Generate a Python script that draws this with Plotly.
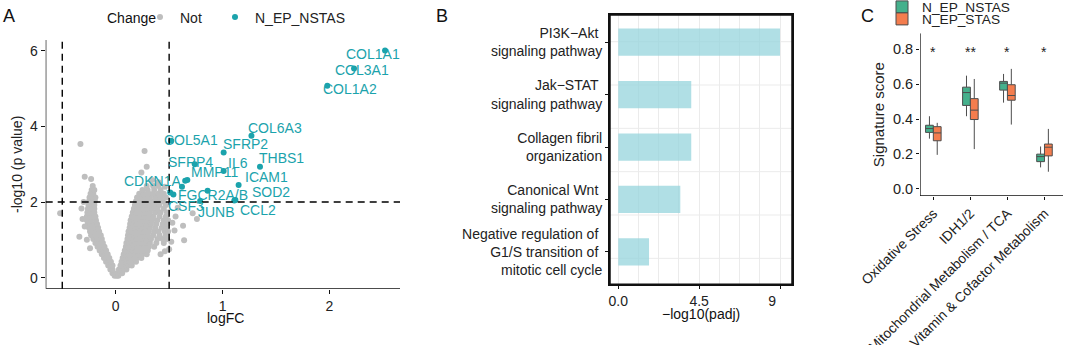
import plotly.graph_objects as go

# ---------------- Panel A : volcano ----------------
# non-significant genes ("Not")
not_x = [
    -0.01, -0.03, -0.015, -0.05, -0.03, -0.07, -0.05, -0.03, -0.09, -0.065, -0.045,
    -0.11, -0.085, -0.06, -0.13, -0.10, -0.075, -0.15, -0.12, -0.09, -0.17, -0.14, -0.105,
    -0.19, -0.155, -0.12, -0.21, -0.17, -0.13, -0.23, -0.185, -0.14, -0.24, -0.20, -0.155,
    -0.25, -0.21, -0.165, -0.26, -0.22, -0.175, -0.27, -0.23, -0.185, -0.27, -0.235, -0.19,
    -0.265, -0.235, -0.20, -0.26, -0.23, -0.20, -0.255, -0.225, -0.20, -0.25, -0.22, -0.195,
    -0.245, -0.215, -0.19, -0.235, -0.21, -0.225, -0.20, -0.215,
    -0.33, -0.29, -0.23, -0.52, -0.34, -0.32, -0.29, -0.31, -0.27, -0.30, -0.24,
    0.01, 0.025, 0.02, 0.04, 0.06, 0.03, 0.05, 0.08, 0.10,
    0.045, 0.07, 0.095, 0.12, 0.15, 0.055, 0.08, 0.105, 0.13, 0.16, 0.19,
    0.065, 0.09, 0.115, 0.14, 0.17, 0.20, 0.24, 0.075, 0.10, 0.125, 0.15, 0.18, 0.21, 0.25, 0.29,
    0.085, 0.11, 0.135, 0.16, 0.19, 0.22, 0.26, 0.30, 0.095, 0.12, 0.145, 0.17, 0.20, 0.23, 0.27, 0.31, 0.36,
    0.10, 0.125, 0.15, 0.18, 0.21, 0.24, 0.28, 0.32, 0.38, 0.45,
    0.11, 0.135, 0.16, 0.19, 0.22, 0.25, 0.29, 0.33, 0.39, 0.44, 0.48,
    0.115, 0.14, 0.17, 0.20, 0.23, 0.26, 0.30, 0.35, 0.41, 0.47,
    0.12, 0.15, 0.18, 0.21, 0.24, 0.27, 0.31, 0.36, 0.40, 0.46, 0.49,
    0.13, 0.155, 0.185, 0.215, 0.245, 0.28, 0.32, 0.37, 0.43, 0.47,
    0.135, 0.16, 0.19, 0.22, 0.25, 0.29, 0.33, 0.38, 0.44, 0.48,
    0.14, 0.17, 0.20, 0.23, 0.26, 0.30, 0.34, 0.39, 0.45, 0.49,
    0.15, 0.18, 0.21, 0.24, 0.27, 0.31, 0.35, 0.41, 0.47,
    0.16, 0.19, 0.22, 0.25, 0.28, 0.32, 0.37, 0.42, 0.48,
    0.17, 0.20, 0.23, 0.26, 0.30, 0.34, 0.39, 0.45,
    0.18, 0.21, 0.24, 0.28, 0.32, 0.36, 0.41, 0.47,
    0.19, 0.22, 0.26, 0.30, 0.34, 0.39, 0.44,
    0.20, 0.24, 0.28, 0.32, 0.37, 0.42, 0.47,
    0.22, 0.26, 0.31, 0.35, 0.40, 0.45,
    0.25, 0.30, 0.36, 0.42, 0.29, 0.35, 0.40,
    0.27, 0.29, 0.24, 0.34, 0.40, 0.46, 0.63, 0.64, 0.76, 0.72, 0.56, 0.55, 0.52, 0.58,
    0.53, 0.50, 0.46, 0.42,
]
not_y = [
    0.05, 0.12, 0.12, 0.22, 0.22, 0.32, 0.32, 0.32, 0.42, 0.42, 0.42,
    0.52, 0.52, 0.52, 0.62, 0.62, 0.62, 0.72, 0.72, 0.72, 0.82, 0.82, 0.82,
    0.92, 0.92, 0.92, 1.02, 1.02, 1.02, 1.12, 1.12, 1.12, 1.22, 1.22, 1.22,
    1.32, 1.32, 1.32, 1.42, 1.42, 1.42, 1.52, 1.52, 1.52, 1.62, 1.62, 1.62,
    1.72, 1.72, 1.72, 1.82, 1.82, 1.82, 1.92, 1.92, 1.92, 2.02, 2.02, 2.02,
    2.12, 2.12, 2.12, 2.22, 2.22, 2.32, 2.32, 2.42,
    3.53, 2.67, 2.61, 1.70, 1.08, 1.83, 1.35, 1.55, 1.00, 2.00, 0.78,
    0.05, 0.05, 0.12, 0.12, 0.12, 0.22, 0.22, 0.22, 0.22,
    0.32, 0.32, 0.32, 0.32, 0.32, 0.42, 0.42, 0.42, 0.42, 0.42, 0.42,
    0.52, 0.52, 0.52, 0.52, 0.52, 0.52, 0.52, 0.62, 0.62, 0.62, 0.62, 0.62, 0.62, 0.62, 0.62,
    0.72, 0.72, 0.72, 0.72, 0.72, 0.72, 0.72, 0.72, 0.82, 0.82, 0.82, 0.82, 0.82, 0.82, 0.82, 0.82, 0.82,
    0.92, 0.92, 0.92, 0.92, 0.92, 0.92, 0.92, 0.92, 0.92, 0.92,
    1.02, 1.02, 1.02, 1.02, 1.02, 1.02, 1.02, 1.02, 1.02, 1.02, 1.02,
    1.12, 1.12, 1.12, 1.12, 1.12, 1.12, 1.12, 1.12, 1.12, 1.12,
    1.22, 1.22, 1.22, 1.22, 1.22, 1.22, 1.22, 1.22, 1.22, 1.22, 1.22,
    1.32, 1.32, 1.32, 1.32, 1.32, 1.32, 1.32, 1.32, 1.32, 1.32,
    1.42, 1.42, 1.42, 1.42, 1.42, 1.42, 1.42, 1.42, 1.42, 1.42,
    1.52, 1.52, 1.52, 1.52, 1.52, 1.52, 1.52, 1.52, 1.52, 1.52,
    1.62, 1.62, 1.62, 1.62, 1.62, 1.62, 1.62, 1.62, 1.62,
    1.72, 1.72, 1.72, 1.72, 1.72, 1.72, 1.72, 1.72, 1.72,
    1.82, 1.82, 1.82, 1.82, 1.82, 1.82, 1.82, 1.82,
    1.92, 1.92, 1.92, 1.92, 1.92, 1.92, 1.92, 1.92,
    2.02, 2.02, 2.02, 2.02, 2.02, 2.02, 2.02,
    2.12, 2.12, 2.12, 2.12, 2.12, 2.12, 2.12,
    2.22, 2.22, 2.22, 2.22, 2.22, 2.22,
    2.32, 2.32, 2.32, 2.32, 2.42, 2.42, 2.42,
    3.35, 2.93, 2.78, 2.58, 2.52, 2.40, 1.37, 0.99, 1.55, 1.70, 1.62, 1.25, 0.95, 1.85,
    1.45, 0.75, 0.70, 0.62,
]

# significant genes (N_EP_NSTAS)
sig_genes = ["COL1A1", "COL3A1", "COL1A2", "COL6A3", "SFRP2", "COL5A1", "SFRP4", "THBS1",
             "IL6", "MMP11", "ICAM1", "CDKN1A", "SOD2", "FGCR2A/B", "CSF3", "JUNB", "CCL2", "", ""]
sig_x = [2.52, 2.23, 1.98, 1.27, 1.01, 0.52, 0.74, 1.35,
         1.01, 0.67, 1.15, 0.51, 1.12, 0.86, 0.54, 0.79, 1.11, 0.65, 0.62]
sig_y = [6.00, 5.53, 5.07, 3.75, 3.31, 3.62, 3.00, 2.93,
         2.82, 2.58, 2.45, 2.25, 2.05, 2.30, 2.20, 2.03, 2.04, 2.56, 2.40]
# label offsets (pixels, right / up) - repel-style placement
label_dx = [-12, 8, 23, 24, 22, 20, -4, 22, 14, 27, 28, -18, 36, 5, 13, 16, 24, 0, 0]
label_dy = [-3, -2, -3, 8, 8, 1, 2, 9, 8, 8, 8, 12, 8, -4, -12, -11, -9, 0, 0]
fc_cut = 0.5
p_cut = 2
a_xticks = [0, 1, 2]
a_yticks = [0, 2, 4, 6]
a_xrange = [-0.655, 2.66]
a_yrange = [-0.29, 6.28]

# ---------------- Panel B : enrichment ----------------
pathways = ["PI3K−Akt <br>signaling pathway",
            "Jak−STAT <br>signaling pathway",
            "Collagen fibril<br>organization",
            "Canonical Wnt <br>signaling pathway",
            "Negative regulation of <br>G1/S transition of <br>mitotic cell cycle"]
neg_log_padj = [9.0, 4.06, 4.06, 3.45, 1.71]
b_xticks = [0, 4.5, 9]
b_xticklabels = ["0.0", "4.5", "9\u00a0\u00a0\u00a0\u00a0"]

# ---------------- Panel C : signature scores ----------------
signatures = ["Oxidative Stress", "IDH1/2", "Mitochondrial Metabolism / TCA",
              "Vitamin & Cofactor Metabolism"]
nstas_low = [0.287, 0.416, 0.494, 0.122]
nstas_q1 = [0.323, 0.478, 0.566, 0.155]
nstas_med = [0.345, 0.552, 0.606, 0.184]
nstas_q3 = [0.364, 0.583, 0.616, 0.198]
nstas_high = [0.416, 0.649, 0.659, 0.242]
stas_low = [0.194, 0.227, 0.368, 0.097]
stas_q1 = [0.275, 0.397, 0.508, 0.188]
stas_med = [0.320, 0.451, 0.535, 0.238]
stas_q3 = [0.356, 0.517, 0.597, 0.256]
stas_high = [0.378, 0.630, 0.688, 0.343]
signif = ["*", "**", "*", "*"]
signif_y = 0.785
c_yticks = [0, 0.2, 0.4, 0.6, 0.8]
c_yrange = [-0.0425, 0.8925]
frame_span = [0, 1]

FONT = "Liberation Sans, Arial, Helvetica, sans-serif"
TEAL = "#1BA3AC"
GREY = "#BEBEBE"
GREEN = "#45B08C"
ORANGE = "#F47D4E"
GRID = "#EBEBEB"
AXC = "#111111"
W, H = 1065, 345


def fx(px):
    return px / W


def fy(py):
    return 1 - py / H


fig = go.Figure()

# ---- A traces
fig.add_trace(go.Scatter(x=not_x, y=not_y, mode="markers", name="Not",
                         marker=dict(color=GREY, size=6, line=dict(width=0)),
                         xaxis="x", yaxis="y", legend="legend"))
fig.add_trace(go.Scatter(x=sig_x, y=sig_y, mode="markers", name="N_EP_NSTAS",
                         marker=dict(color=TEAL, size=6, line=dict(width=0)),
                         xaxis="x", yaxis="y", legend="legend4"))
# panel A axis frame (left + bottom)
fig.add_trace(go.Scatter(x=[a_xrange[0], a_xrange[0], a_xrange[1]],
                         y=[a_yrange[1], a_yrange[0], a_yrange[0]],
                         mode="lines", line=dict(color=AXC, width=1.3),
                         cliponaxis=False, showlegend=False, hoverinfo="skip",
                         xaxis="x", yaxis="y"))

annotations = []
for g, x, y, dx, dy in zip(sig_genes, sig_x, sig_y, label_dx, label_dy):
    if not g:
        continue
    if g == "CDKN1A":
        annotations.append(dict(x=x, y=y, xref="x", yref="y", text=g, showarrow=True,
                                ax=dx, ay=-dy, arrowhead=0, arrowwidth=0.7,
                                arrowcolor=TEAL, standoff=0,
                                font=dict(family=FONT, size=14, color=TEAL)))
    else:
        annotations.append(dict(x=x, y=y, xref="x", yref="y", text=g, showarrow=False,
                                xshift=dx, yshift=dy,
                                font=dict(family=FONT, size=14, color=TEAL)))

shapes = []
for v in (-fc_cut, fc_cut):
    shapes.append(dict(type="line", xref="x", yref="y domain", x0=v, x1=v, y0=0, y1=1,
                       line=dict(color="black", width=1.4, dash="7px,5px")))
shapes.append(dict(type="line", xref="x domain", yref="y", x0=0, x1=1, y0=p_cut, y1=p_cut,
                   line=dict(color="black", width=1.4, dash="7px,5px")))
# horizontal panel-B grid (evenly spaced, not aligned to the categories)
for k in range(6):
    frac = 0.0991 + k * 0.1609
    shapes.append(dict(type="line", xref="x2 domain", yref="y2 domain", x0=0, x1=1,
                       y0=1 - frac, y1=1 - frac, layer="below",
                       line=dict(color=GRID, width=1)))
# panel B frame
shapes.append(dict(type="rect", xref="x2 domain", yref="y2 domain",
                   x0=0, x1=1, y0=0, y1=1, layer="above",
                   fillcolor="rgba(0,0,0,0)", line=dict(color=AXC, width=1.5)))

# ---- B trace
fig.add_trace(go.Bar(x=neg_log_padj, y=pathways, orientation="h",
                     marker=dict(color="rgba(150,212,220,0.75)", line=dict(width=0)),
                     width=0.52, showlegend=False, xaxis="x2", yaxis="y2"))

# ---- C traces
fig.add_trace(go.Box(x=signatures, q1=nstas_q1, median=nstas_med, q3=nstas_q3,
                     lowerfence=nstas_low, upperfence=nstas_high, name="N_EP_NSTAS",
                     fillcolor=GREEN, line=dict(color="#4D4D4D", width=1),
                     whiskerwidth=0, xaxis="x3", yaxis="y3", legend="legend2"))
fig.add_trace(go.Box(x=signatures, q1=stas_q1, median=stas_med, q3=stas_q3,
                     lowerfence=stas_low, upperfence=stas_high, name="N_EP_STAS",
                     fillcolor=ORANGE, line=dict(color="#4D4D4D", width=1),
                     whiskerwidth=0, xaxis="x3", yaxis="y3", legend="legend3"))
# panel C axis frame (left + bottom) on a hidden linear overlay x axis
fig.add_trace(go.Scatter(x=[frame_span[0], frame_span[0], frame_span[1]],
                         y=[c_yrange[1], c_yrange[0], c_yrange[0]],
                         mode="lines", line=dict(color=AXC, width=1.3),
                         cliponaxis=False, showlegend=False, hoverinfo="skip",
                         xaxis="x4", yaxis="y3"))
for s, t in zip(signatures, signif):
    annotations.append(dict(x=s, y=signif_y, xref="x3", yref="y3", text=t, showarrow=False,
                            font=dict(family=FONT, size=14, color="#222")))

# panel letters, legend title and x-axis titles
texts = [("A", 9, 16, 18), ("B", 442, 16, 18), ("C", 867, 16, 18),
         ("Change", 131.5, 17.5, 14), ("logFC", 225, 317.5, 14), ("−log10(padj)", 701, 314, 14)]
for t, px, py, sz in texts:
    annotations.append(dict(x=fx(px), y=fy(py), xref="paper", yref="paper", text=t,
                            xanchor="center", yanchor="middle",
                            showarrow=False, font=dict(family=FONT, size=sz, color="#111")))

tickfont = dict(family=FONT, size=14, color="#222")
axA = dict(showline=False, ticks="outside", ticklen=4, tickcolor=AXC,
           showgrid=False, zeroline=False, tickfont=tickfont, automargin=False)
legend_common = dict(bgcolor="rgba(0,0,0,0)", borderwidth=0, itemwidth=30,
                     xanchor="left", yanchor="middle")

fig.update_layout(
    template="none",
    width=W, height=H, margin=dict(l=0, r=0, t=0, b=0, pad=0, autoexpand=False),
    paper_bgcolor="white", plot_bgcolor="rgba(0,0,0,0)",
    font=dict(family=FONT, size=14, color="#222"),
    boxmode="group", boxgap=0.58, boxgroupgap=0.0,
    dragmode=False,
    xaxis=dict(axA, domain=[fx(45.7), fx(400)], range=a_xrange, tickvals=a_xticks,
               anchor="y"),
    yaxis=dict(axA, domain=[fy(288.7), fy(40)], range=a_yrange, tickvals=a_yticks,
               anchor="x", title=dict(text="-log10 (p value)", standoff=4, font=dict(size=14))),
    xaxis2=dict(axA, domain=[fx(610), fx(792)], anchor="y2", range=[-0.462, 9.666],
                tickvals=b_xticks, ticktext=b_xticklabels, ticklen=3,
                showline=True, linecolor=AXC, linewidth=2, mirror=True,
                showgrid=True, gridcolor=GRID, gridwidth=1,
                minor=dict(dtick=1.125, tick0=0, showgrid=True, gridcolor=GRID,
                           gridwidth=1, ticks="")),
    yaxis2=dict(axA, domain=[fy(284.3), fy(15)], anchor="x2", type="category",
                categoryorder="array", categoryarray=pathways, range=[4.62, -0.52],
                showline=True, linecolor=AXC, linewidth=2, mirror=True, ticklen=3),
    xaxis3=dict(axA, domain=[fx(920), fx(1063)], anchor="y3", type="category",
                range=[-0.36, 3.5], tickangle=-45, ticklen=3,
                tickfont=dict(family=FONT, size=13.8, color="#222")),
    xaxis4=dict(overlaying="x3", anchor="y3", range=frame_span, visible=False,
                showgrid=False, zeroline=False, automargin=False),
    yaxis3=dict(axA, domain=[fy(196), fy(33.3)], anchor="x3", range=c_yrange,
                tickvals=c_yticks, tickformat=".1f", ticklen=3,
                tickfont=dict(family=FONT, size=14.5, color="#222"),
                title=dict(text="Signature score", standoff=4, font=dict(size=15))),
    legend=dict(legend_common, orientation="h", x=fx(140), y=fy(17.5),
                font=dict(size=14, color="#222")),
    legend4=dict(legend_common, orientation="h", x=fx(215), y=fy(17.5),
                 font=dict(size=14, color="#222")),
    legend2=dict(legend_common, x=fx(882), y=fy(7), font=dict(size=13.7, color="#222")),
    legend3=dict(legend_common, x=fx(882), y=fy(19), font=dict(size=13.7, color="#222")),
    annotations=annotations,
    shapes=shapes,
)

fig.write_html("out.html", config={"displayModeBar": False, "staticPlot": True},
               post_script="document.body.style.margin='0px';")
